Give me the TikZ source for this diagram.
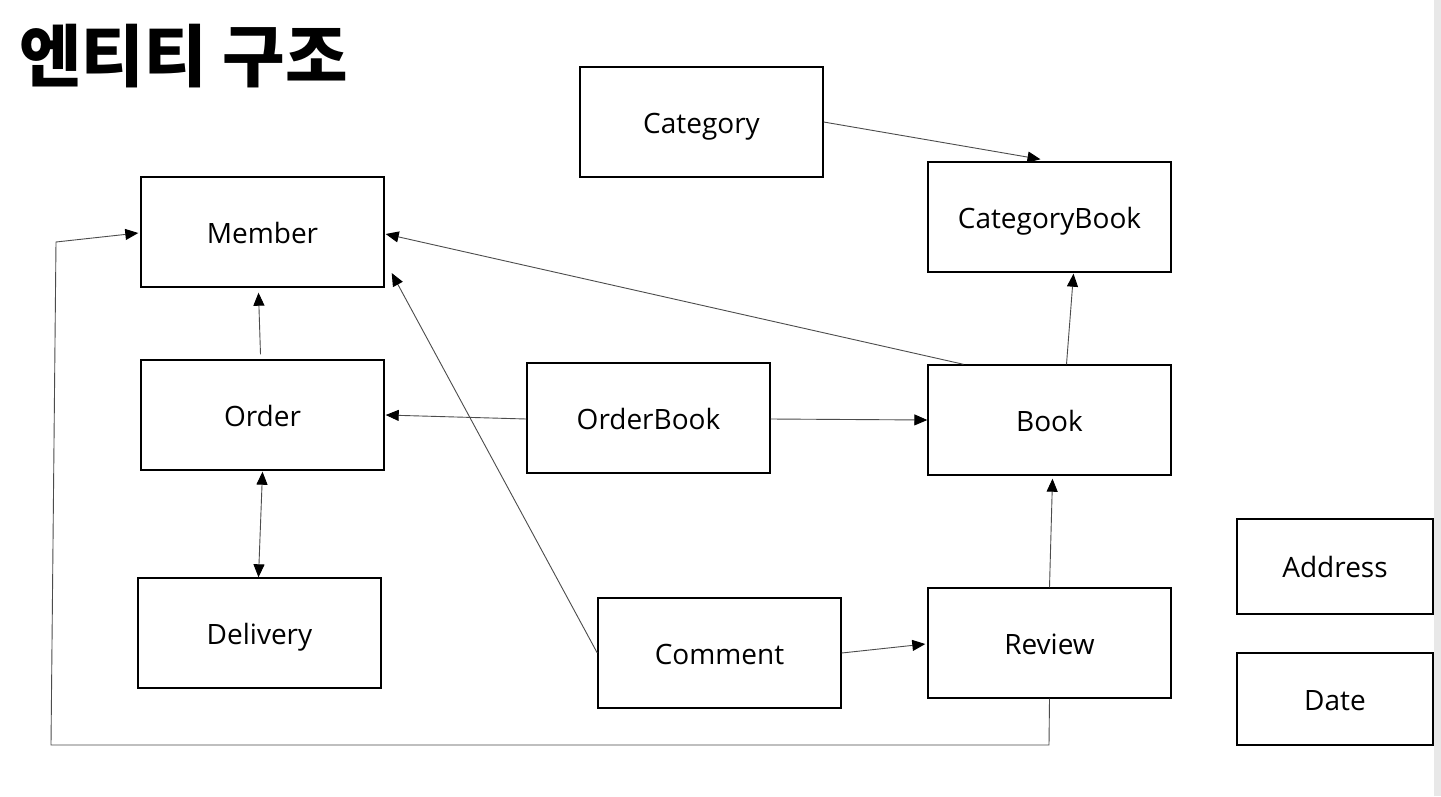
\documentclass[tikz,border=0pt]{standalone}
\usepackage{fontspec}
\setmainfont{Open Sans}
\newfontfamily\cjk{Noto Sans CJK KR}
\usetikzlibrary{arrows.meta}
\tikzset{
  box/.style={draw=black, line width=1.4pt, minimum width=243pt, minimum height=110pt, inner sep=0pt, text height=24pt, text depth=2pt, font=\fontsize{28}{32}\selectfont},
  smallbox/.style={box, minimum width=196pt, minimum height=94pt},
  tip/.tip={Triangle[length=13pt,width=11pt,color=black]},
  conn/.style={draw=black!70, line width=0.9pt, -tip},
}
\begin{document}
\begin{tikzpicture}[x=1pt,y=-1pt]
\useasboundingbox (0,0) rectangle (1441,796);
\fill[white] (0,0) rectangle (1441,796);
\fill[black!9] (1434,0) rectangle (1441,796);
\node[anchor=west, inner sep=0pt, font={\cjk\bfseries\fontsize{68}{74}\selectfont}] (title) at (19,56) {엔티티 구조};
\node[box] (category) at (701.5,122) {Category};
\node[box] (categorybook) at (1049.5,217) {CategoryBook};
\node[box] (member) at (262.5,232) {Member};
\node[box] (order) at (262.5,415) {Order};
\node[box] (orderbook) at (648.5,418) {OrderBook};
\node[box] (book) at (1049.5,420) {Book};
\node[box] (delivery) at (259.5,633) {Delivery};
\node[box] (comment) at (719.5,653) {Comment};
\node[box] (review) at (1049.5,643) {Review};
\node[smallbox, minimum height=95pt] (address) at (1335,566.5) {Address};
\node[smallbox, minimum height=92pt] (date) at (1335,699) {Date};
\coordinate (c1) at (1049,745);
\coordinate (c2) at (51,745);
\coordinate (c3) at (56,242);
\draw[conn] (category.east) -- ([xshift=-9pt,yshift=2pt]categorybook.north);
\draw[conn] ([xshift=17pt]book.north) -- ([xshift=24pt,yshift=-1pt]categorybook.south);
\draw[conn] ([xshift=-86pt]book.north) -- ([xshift=1pt,yshift=-2pt]member.east);
\draw[conn] ([xshift=-2pt,yshift=5pt]order.north) -- ([xshift=-4pt,yshift=-5pt]member.south);
\draw[conn] ([yshift=-1pt]orderbook.west) -- ([xshift=1pt]order.east);
\draw[conn] ([yshift=-1pt]orderbook.east) -- (book.west);
\draw[conn, tip-tip] ([yshift=-1pt]order.south) -- ([xshift=-1pt]delivery.north);
\draw[conn] (comment.west) -- ([xshift=7pt,yshift=-41pt]member.east);
\draw[conn] (comment.east) -- ([xshift=-2pt,yshift=-1pt]review.west);
\draw[conn] (review.north) -- ([xshift=3pt,yshift=-3pt]book.south);
\draw[conn] (review.south) -- (c1) -- (c2) -- (c3) -- ([xshift=-2pt,yshift=-1pt]member.west);
\end{tikzpicture}
\end{document}
